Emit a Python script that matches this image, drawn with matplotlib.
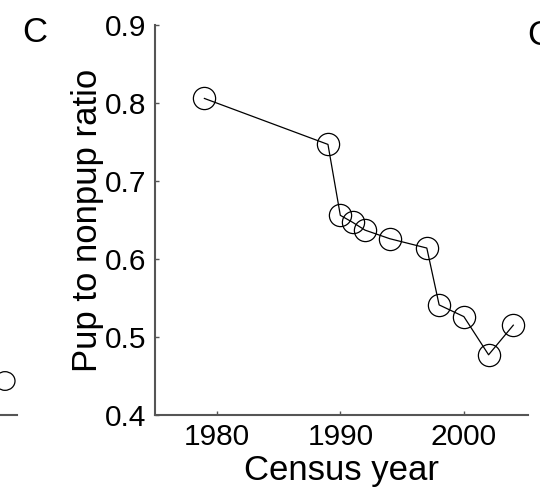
import numpy as np
import matplotlib.pyplot as plt
from matplotlib.patches import Circle
from matplotlib.lines import Line2D

years = [1979, 1989, 1990, 1991, 1992, 1994, 1997, 1998, 2000, 2002, 2004]
ratio = [0.806, 0.747, 0.656, 0.647, 0.637, 0.626, 0.614, 0.541, 0.526, 0.477, 0.515]
xticks = [1980, 1990, 2000]
yticks = [0.4, 0.5, 0.6, 0.7, 0.8, 0.9]

plt.rcParams['font.family'] = ['Liberation Sans', 'DejaVu Sans']

fig = plt.figure(figsize=(5.4, 5.04), dpi=100)
ax = fig.add_axes([0.287, 0.177, 0.691, 0.773])

ax.plot(years, ratio, color='black', lw=0.9, marker='o', ms=16,
        mfc='none', mec='black', mew=0.9)

ax.set_xlim(1975, 2005.2)
ax.set_ylim(0.4, 0.9)
ax.set_xticks(xticks)
ax.set_yticks(yticks)
ax.set_yticklabels(['0.4', '0.5', '0.6', '0.7', '0.8', '0.9'])
ax.tick_params(direction='in', length=3, width=1, color='#555555',
               labelsize=21.5, pad=6)
for s in ['top', 'right']:
    ax.spines[s].set_visible(False)
for s in ['left', 'bottom']:
    ax.spines[s].set_color('#555555')
    ax.spines[s].set_linewidth(1.5)

ax.set_xlabel('Census year', fontsize=25, labelpad=2)
ax.set_ylabel('Pup to nonpup ratio', fontsize=25, labelpad=1)

fig.text(0.065, 0.935, 'C', fontsize=25, ha='center', va='center')
# bits of neighbouring panels cut off at the edges
fig.text(0.977, 0.93, 'C', fontsize=25, ha='left', va='center')
fig.add_artist(Circle((5 / 540, 1 - 381 / 504), 10 / 540, transform=fig.transFigure,
                      fill=False, ec='black', lw=0.9))
fig.add_artist(Line2D([0, 17 / 540], [1 - 415 / 504, 1 - 415 / 504],
                      transform=fig.transFigure, color='#555555', lw=1.5))

fig.savefig('out.png', dpi=100)
